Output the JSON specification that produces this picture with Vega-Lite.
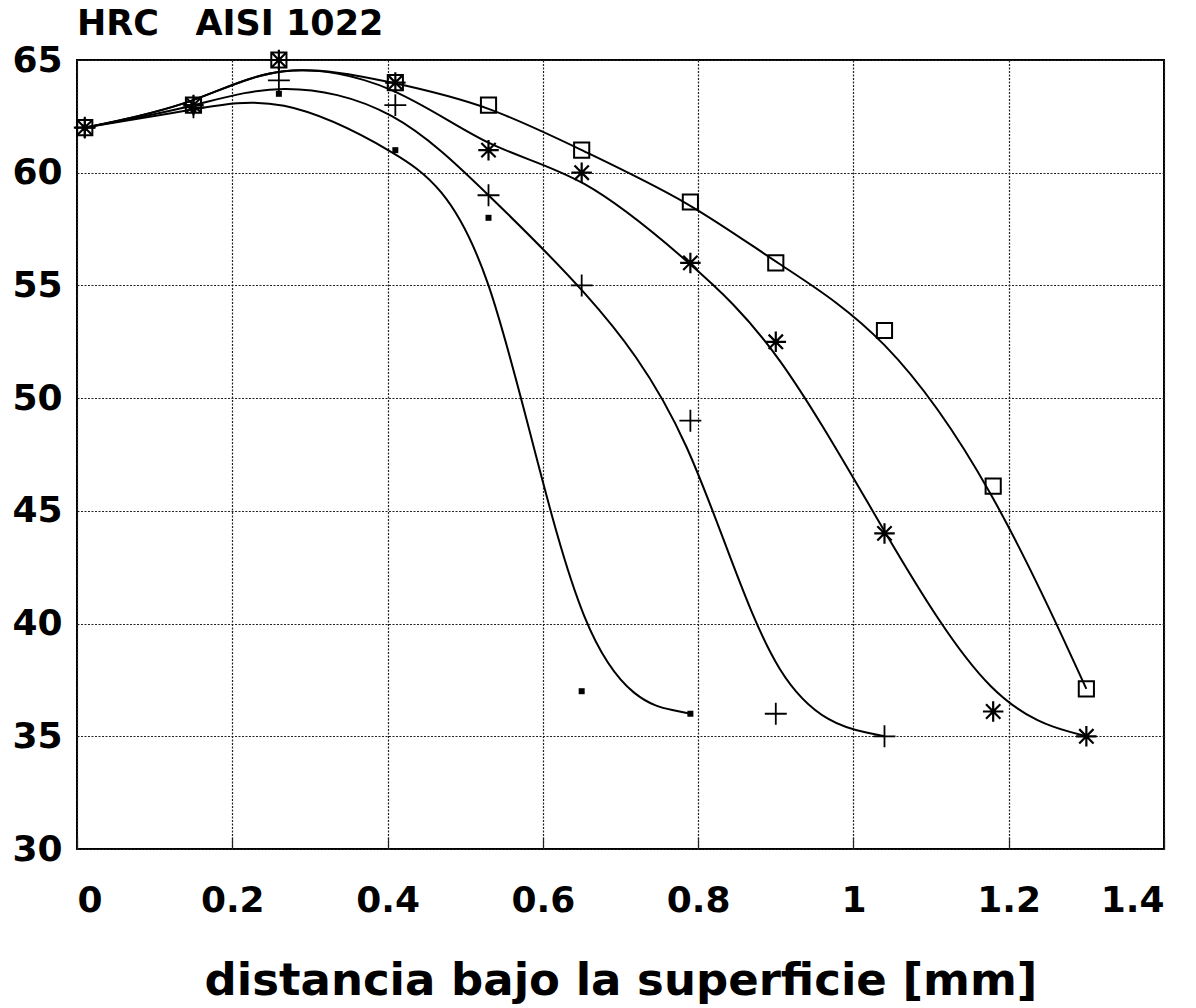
{
  "$schema": "https://vega.github.io/schema/vega-lite/v6.json",
  "width": 1087,
  "height": 789,
  "autosize": "none",
  "padding": {"left": 77, "top": 60, "right": 32, "bottom": 159},
  "background": "white",
  "title": {"text": "HRC\u00a0\u00a0\u00a0AISI 1022", "anchor": "start", "frame": "group", "font": "DejaVu Sans", "fontSize": 35, "fontWeight": "bold", "color": "black", "offset": -10, "dy": 18, "baseline": "alphabetic"},
  "config": {
    "view": {"stroke": "black", "strokeWidth": 2},
    "axis": {
      "labelFont": "DejaVu Sans", "labelFontSize": 36, "labelFontWeight": "bold", "labelColor": "black",
      "titleFont": "DejaVu Sans", "titleFontSize": 45, "titleFontWeight": "bold", "titleColor": "black",
      "grid": true, "gridColor": "#222", "gridDash": [2, 1.5], "gridWidth": 1.2,
      "domain": false
    }
  },
  "data": {"values": [
    {"x": 0.01, "hrc": 62, "serie": "cuadrado"},
    {"x": 0.15, "hrc": 63, "serie": "cuadrado"},
    {"x": 0.26, "hrc": 65, "serie": "cuadrado"},
    {"x": 0.41, "hrc": 64, "serie": "cuadrado"},
    {"x": 0.53, "hrc": 63, "serie": "cuadrado"},
    {"x": 0.65, "hrc": 61, "serie": "cuadrado"},
    {"x": 0.79, "hrc": 58.7, "serie": "cuadrado"},
    {"x": 0.9, "hrc": 56, "serie": "cuadrado"},
    {"x": 1.04, "hrc": 53, "serie": "cuadrado"},
    {"x": 1.18, "hrc": 46.1, "serie": "cuadrado"},
    {"x": 1.3, "hrc": 37.1, "serie": "cuadrado"},
    {"x": 0.01, "hrc": 62, "serie": "asterisco"},
    {"x": 0.15, "hrc": 63, "serie": "asterisco"},
    {"x": 0.26, "hrc": 65, "serie": "asterisco"},
    {"x": 0.41, "hrc": 64, "serie": "asterisco"},
    {"x": 0.53, "hrc": 61, "serie": "asterisco"},
    {"x": 0.65, "hrc": 60, "serie": "asterisco"},
    {"x": 0.79, "hrc": 56, "serie": "asterisco"},
    {"x": 0.9, "hrc": 52.5, "serie": "asterisco"},
    {"x": 1.04, "hrc": 44, "serie": "asterisco"},
    {"x": 1.18, "hrc": 36.1, "serie": "asterisco"},
    {"x": 1.3, "hrc": 35, "serie": "asterisco"},
    {"x": 0.01, "hrc": 62, "serie": "cruz"},
    {"x": 0.15, "hrc": 62.9, "serie": "cruz"},
    {"x": 0.26, "hrc": 64.1, "serie": "cruz"},
    {"x": 0.41, "hrc": 63, "serie": "cruz"},
    {"x": 0.53, "hrc": 59, "serie": "cruz"},
    {"x": 0.65, "hrc": 55, "serie": "cruz"},
    {"x": 0.79, "hrc": 49, "serie": "cruz"},
    {"x": 0.9, "hrc": 36, "serie": "cruz"},
    {"x": 1.04, "hrc": 35, "serie": "cruz"},
    {"x": 0.01, "hrc": 62, "serie": "punto"},
    {"x": 0.15, "hrc": 62.8, "serie": "punto"},
    {"x": 0.26, "hrc": 63.5, "serie": "punto"},
    {"x": 0.41, "hrc": 61, "serie": "punto"},
    {"x": 0.53, "hrc": 58, "serie": "punto"},
    {"x": 0.65, "hrc": 37, "serie": "punto"},
    {"x": 0.79, "hrc": 36, "serie": "punto"}
  ]},
  "encoding": {
    "x": {"field": "x", "type": "quantitative",
      "scale": {"domain": [0, 1.4], "nice": false, "zero": false},
      "axis": {"values": [0, 0.2, 0.4, 0.6, 0.8, 1, 1.2, 1.4], "format": "~g", "tickSize": -12, "tickColor": "#222", "tickWidth": 1.2, "labelPadding": 46, "titlePadding": 40},
      "title": "distancia bajo la superficie [mm]"},
    "y": {"field": "hrc", "type": "quantitative",
      "scale": {"domain": [30, 65], "nice": false, "zero": false},
      "axis": {"values": [30, 35, 40, 45, 50, 55, 60, 65], "ticks": false, "labelPadding": 15},
      "title": null}
  },
  "layer": [
    {
      "mark": {"type": "line", "interpolate": "basis", "color": "black", "strokeWidth": 2},
      "encoding": {"detail": {"field": "serie"}}
    },
    {
      "transform": [{"filter": "datum.serie === 'cuadrado'"}],
      "mark": {"type": "point", "shape": "square", "filled": false, "color": "black", "opacity": 1, "strokeWidth": 2, "size": 230}
    },
    {
      "transform": [{"filter": "datum.serie === 'asterisco'"}],
      "mark": {"type": "point", "shape": "M-1,0L1,0M0,-1L0,1M-0.7,-0.7L0.7,0.7M-0.7,0.7L0.7,-0.7", "filled": false, "color": "black", "opacity": 1, "strokeWidth": 2.2, "size": 420}
    },
    {
      "transform": [{"filter": "datum.serie === 'cruz'"}],
      "mark": {"type": "point", "shape": "M-1,0L1,0M0,-1L0,1", "filled": false, "color": "black", "opacity": 1, "strokeWidth": 1.8, "size": 480}
    },
    {
      "transform": [{"filter": "datum.serie === 'punto'"}],
      "mark": {"type": "point", "shape": "square", "filled": true, "color": "black", "opacity": 1, "size": 36}
    }
  ]
}
